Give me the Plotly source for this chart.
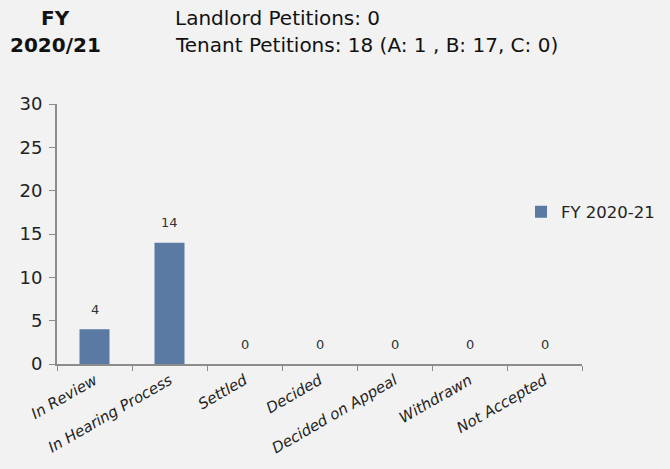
import plotly.graph_objects as go

categories = ["In Review", "In Hearing Process", "Settled", "Decided",
              "Decided on Appeal", "Withdrawn", "Not Accepted"]
values = [4, 14, 0, 0, 0, 0, 0]
series_name = "FY 2020-21"
y_ticks = [0, 5, 10, 15, 20, 25, 30]

FONT = "DejaVu Sans"
BAR = "#5a7aa3"
BG = "#f2f2f2"
AX = "#8c8c8c"

L, R, T, B = 57, 88, 104, 105
PW = 670 - L - R

fig = go.Figure()
fig.add_trace(go.Bar(
    x=categories, y=values, name=series_name,
    marker=dict(color=BAR, line=dict(width=0)),
    width=0.4, hoverinfo="x+y",
))

for c, v in zip(categories, values):
    fig.add_annotation(x=c, y=v, text=str(v), showarrow=False, yanchor="middle",
                       yshift=20, font=dict(family=FONT, size=13, color="#333333"))

TX = (173 - L) / PW
FX = (55 - L) / PW
for txt, ys, x, anchor in [("<b>FY</b>", 86, FX, "center"),
                           ("<b>2020/21</b>", 59, FX, "center"),
                           ("Landlord Petitions: 0", 86, TX, "left"),
                           ("Tenant Petitions: 18 (A: 1 , B: 17, C: 0)", 59, TX, "left")]:
    fig.add_annotation(xref="paper", yref="paper", x=x, y=1.0, yshift=ys,
                       text=txt, showarrow=False, xanchor=anchor, yanchor="middle",
                       font=dict(family=FONT, size=20, color="#111111"))

fig.update_layout(
    width=670, height=469,
    margin=dict(l=L, r=R, t=T, b=B, autoexpand=False),
    paper_bgcolor=BG, plot_bgcolor=BG,
    showlegend=True,
    legend=dict(xref="container", yref="container", x=521 / 670, y=1 - 212 / 469,
                xanchor="left", yanchor="middle",
                font=dict(family=FONT, size=16.5, color="#222222"),
                bgcolor="rgba(0,0,0,0)"),
    xaxis=dict(type="category", tickson="boundaries", ticks="outside",
               ticklen=5, tickcolor=AX, showline=True, linecolor=AX, linewidth=2,
               showgrid=False, tickangle=-30, automargin=False,
               tickfont=dict(family=FONT, size=15, color="#222222", style="italic")),
    yaxis=dict(range=[0, 30], tickvals=y_ticks, ticks="outside", ticklen=6,
               tickcolor=AX, showline=True, linecolor=AX, linewidth=2,
               showgrid=False, zeroline=False, automargin=False, ticklabelstandoff=3,
               tickfont=dict(family=FONT, size=18, color="#222222")),
)

fig.write_html("out.html", config={"displayModeBar": False},
               post_script="document.body.style.margin='0';")
